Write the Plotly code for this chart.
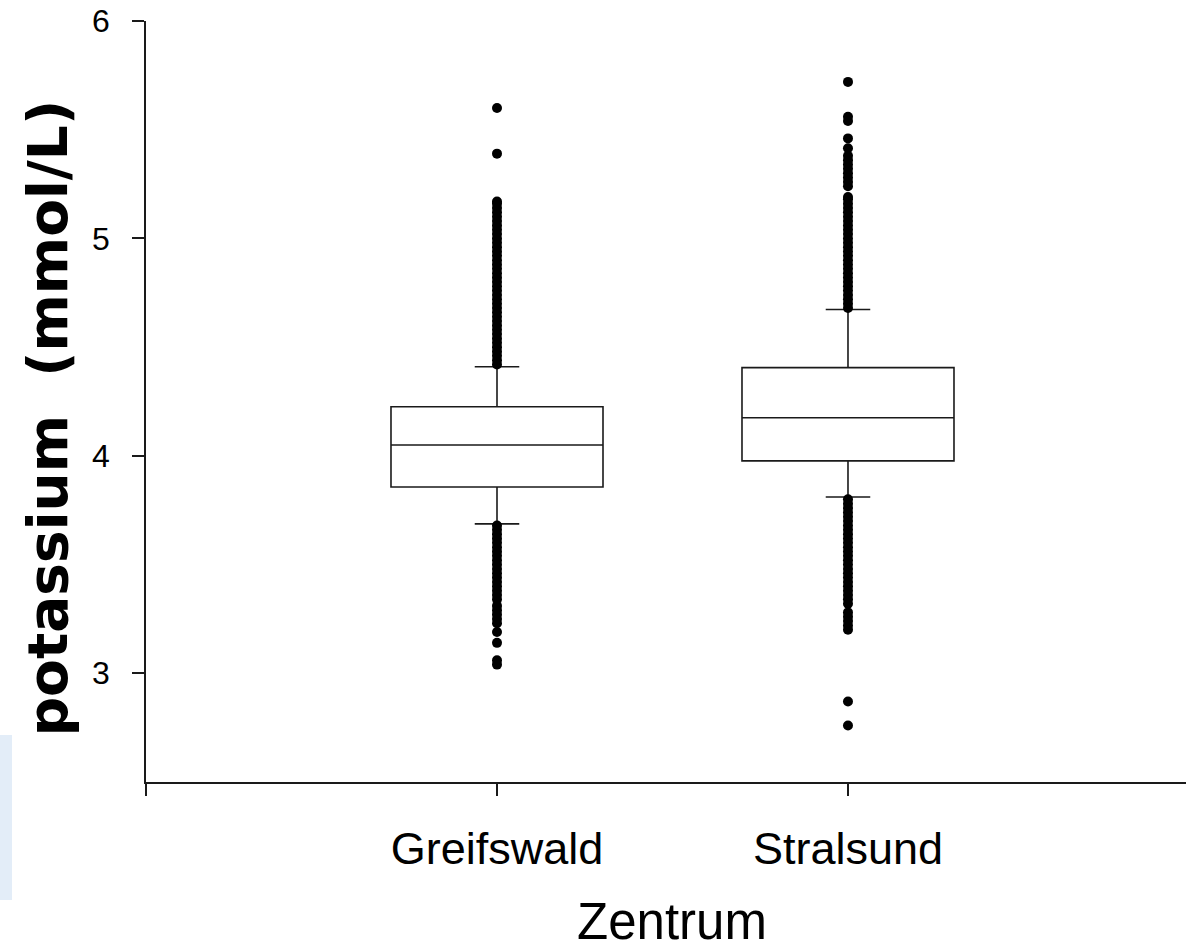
import plotly.graph_objects as go

# ---- data ----
categories = ["Greifswald", "Stralsund"]
q1 = [3.857, 3.977]
median = [4.050, 4.175]
q3 = [4.226, 4.406]
lower_whisker = [3.687, 3.811]
upper_whisker = [4.410, 4.673]

greifswald_outliers = [
    4.42, 4.44, 4.46, 4.48, 4.50, 4.52, 4.54, 4.56, 4.58, 4.60, 4.62, 4.64,
    4.66, 4.68, 4.70, 4.72, 4.74, 4.76, 4.78, 4.80, 4.82, 4.84, 4.86, 4.88,
    4.90, 4.92, 4.94, 4.96, 4.98, 5.00, 5.02, 5.04, 5.06, 5.08, 5.10, 5.12,
    5.14, 5.16, 5.17, 5.39, 5.60,
    3.68, 3.66, 3.64, 3.62, 3.60, 3.58, 3.56, 3.54, 3.52, 3.50, 3.48, 3.46,
    3.44, 3.42, 3.40, 3.38, 3.36, 3.34, 3.31, 3.29, 3.27, 3.25, 3.23, 3.19,
    3.14, 3.06, 3.04,
]
stralsund_outliers = [
    4.68, 4.70, 4.72, 4.74, 4.76, 4.78, 4.80, 4.82, 4.84, 4.86, 4.88, 4.90,
    4.92, 4.94, 4.96, 4.98, 5.00, 5.02, 5.04, 5.06, 5.08, 5.10, 5.12, 5.14,
    5.16, 5.18, 5.19, 5.24, 5.26, 5.28, 5.30, 5.32, 5.34, 5.36, 5.38, 5.415,
    5.46, 5.54, 5.56, 5.72,
    3.80, 3.78, 3.76, 3.74, 3.72, 3.70, 3.68, 3.66, 3.64, 3.62, 3.60, 3.58,
    3.56, 3.54, 3.52, 3.50, 3.48, 3.46, 3.44, 3.42, 3.40, 3.38, 3.36, 3.34,
    3.32, 3.28, 3.26, 3.24, 3.22, 3.20, 2.87, 2.76,
]
outliers = [greifswald_outliers, stralsund_outliers]

y_ticks = [3, 4, 5, 6]
x_title = "Zentrum"
y_title = "potassium\u00a0\u00a0(mmol/L)"

# ---- figure ----
LINE = "#1a1a1a"
fig = go.Figure()

for i, cat in enumerate(categories):
    fig.add_trace(go.Box(
        x=[i], q1=[q1[i]], median=[median[i]], q3=[q3[i]],
        lowerfence=[lower_whisker[i]], upperfence=[upper_whisker[i]],
        boxpoints=False, width=0.604, whiskerwidth=0.21,
        fillcolor="white", line=dict(color=LINE, width=1.6),
        name=cat, showlegend=False, hoverinfo="skip",
    ))
    fig.add_trace(go.Scatter(
        x=[i] * len(outliers[i]), y=outliers[i], mode="markers",
        marker=dict(color="black", size=10, line=dict(width=0)),
        showlegend=False, hoverinfo="skip",
    ))

fig.update_layout(
    width=1186, height=951,
    margin=dict(l=146, r=0, t=21, b=169),
    paper_bgcolor="white", plot_bgcolor="white",
    xaxis=dict(
        range=[-1, 1.963], tickvals=[-1, 0, 1],
        ticktext=[""] + categories,
        showline=True, linecolor=LINE, linewidth=1.8,
        ticks="outside", ticklen=12, tickwidth=1.6, tickcolor=LINE,
        showgrid=False, zeroline=False,
        tickfont=dict(family="Liberation Sans, Arial, sans-serif", size=45, color="black"),
        ticklabelstandoff=14,
    ),
    yaxis=dict(
        range=[2.5, 6], tickvals=y_ticks,
        showline=True, linecolor=LINE, linewidth=1.8,
        ticks="outside", ticklen=12, tickwidth=1.6, tickcolor=LINE,
        showgrid=False, zeroline=False,
        tickfont=dict(family="Liberation Sans, Arial, sans-serif", size=32, color="black"),
        ticklabelstandoff=16,
    ),
    annotations=[
        dict(text="<b>" + y_title + "</b>", xref="paper", yref="paper", x=-0.0942, y=0.478,
             xanchor="center", yanchor="middle", textangle=-90, showarrow=False,
             font=dict(family="DejaVu Sans, Verdana, sans-serif", size=55, color="black")),
        dict(text=x_title, xref="paper", yref="paper", x=0.506, y=-0.183,
             xanchor="center", yanchor="middle", showarrow=False,
             font=dict(family="Liberation Sans, Arial, sans-serif", size=51, color="black")),
    ],
    shapes=[
        dict(type="rect", xref="paper", yref="paper",
             x0=-146 / 1040, x1=-134 / 1040, y0=(782 - 900) / 761, y1=(782 - 735) / 761,
             fillcolor="#e3edf8", line=dict(width=0), layer="below"),
    ],
)

fig.write_html(
    "out.html",
    config={"displayModeBar": False},
    post_script="document.body.style.margin='0';document.body.style.overflow='hidden';",
)
